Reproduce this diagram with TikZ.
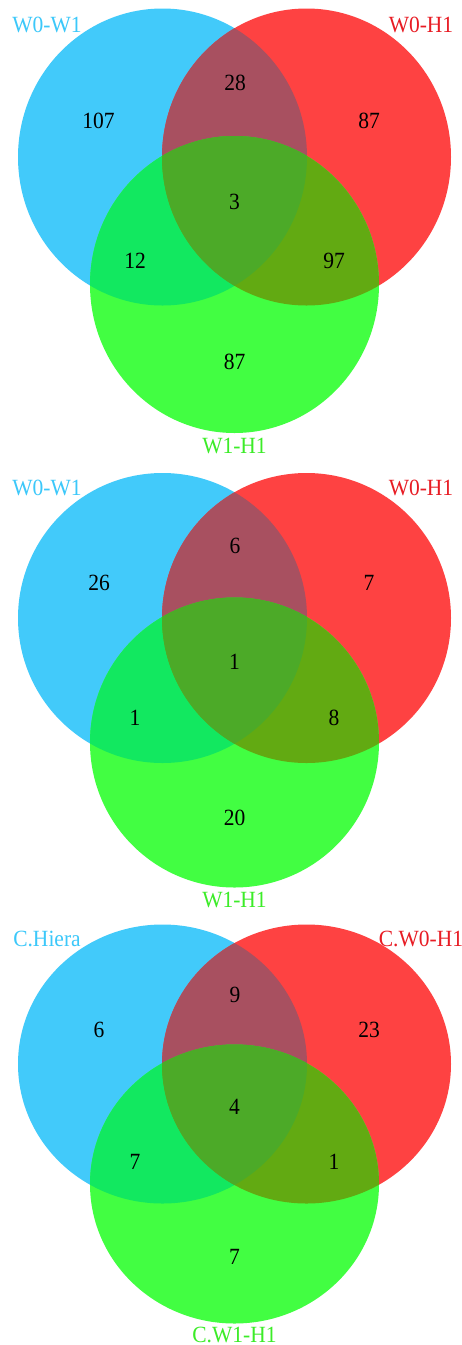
\documentclass[tikz,border=0pt]{standalone}
\usepackage{graphicx}
\usepackage{fontspec}
\setmainfont{Liberation Serif}
\definecolor{cB}{RGB}{66,202,250}
\definecolor{cR}{RGB}{254,66,66}
\definecolor{cG}{RGB}{66,254,66}
\definecolor{cBR}{RGB}{168,80,96}
\definecolor{cBG}{RGB}{18,232,96}
\definecolor{cRG}{RGB}{98,170,18}
\definecolor{cBRG}{RGB}{76,170,40}
\definecolor{tB}{RGB}{60,200,250}
\definecolor{tR}{RGB}{232,28,36}
\definecolor{tG}{RGB}{60,236,40}
\newcommand\stretchtxt[1]{\scalebox{1}[1.08]{#1}}
\tikzset{
  num/.style={inner sep=0pt, font=\fontsize{21.5}{24}\selectfont, text=black},
  setlabel/.style={inner sep=0pt, font=\fontsize{21.5}{24}\selectfont},
}
% #1 blue/red centre y, #2 vertical radius, #3 green centre y
\newcommand\venndraw[3]{%
  \def\pB{(162.5,#1) ellipse [x radius=144.5pt, y radius=#2pt]}%
  \def\pR{(306.5,#1) ellipse [x radius=144.5pt, y radius=#2pt]}%
  \def\pG{(234.5,#3) ellipse [x radius=144.5pt, y radius=#2pt]}%
  \fill[cB] \pB;
  \fill[cR] \pR;
  \fill[cG] \pG;
  \begin{scope}\clip \pB; \fill[cBR] \pR; \fill[cBG] \pG; \end{scope}
  \begin{scope}\clip \pR; \fill[cRG] \pG; \end{scope}
  \begin{scope}\clip \pB; \clip \pR; \fill[cBRG] \pG; \end{scope}
}
\begin{document}
\begin{tikzpicture}[x=1pt,y=-1pt]
\useasboundingbox (0,0) rectangle (461,1345);
\fill[white] (0,0) rectangle (461,1345);
% ---------- diagram 1
\venndraw{157}{148.5}{284.5}
\node[setlabel,text=tB] (a1) at (47,24.5) {\stretchtxt{W0-W1}};
\node[setlabel,text=tR] (a2) at (421,24.5) {\stretchtxt{W0-H1}};
\node[setlabel,text=tG] (a3) at (234.5,446) {\stretchtxt{W1-H1}};
\node[num] (a4) at (98.5,121) {\stretchtxt{107}};
\node[num] (a5) at (235,83) {\stretchtxt{28}};
\node[num] (a6) at (369,121) {\stretchtxt{87}};
\node[num] (a7) at (234.5,202) {\stretchtxt{3}};
\node[num] (a8) at (135,261) {\stretchtxt{12}};
\node[num] (a9) at (334,261) {\stretchtxt{97}};
\node[num] (a10) at (234.5,362) {\stretchtxt{87}};
% ---------- diagram 2
\venndraw{618}{145}{742.5}
\node[setlabel,text=tB] (b1) at (47,488) {\stretchtxt{W0-W1}};
\node[setlabel,text=tR] (b2) at (421,488) {\stretchtxt{W0-H1}};
\node[setlabel,text=tG] (b3) at (234.5,900) {\stretchtxt{W1-H1}};
\node[num] (b4) at (99,583) {\stretchtxt{26}};
\node[num] (b5) at (235,546) {\stretchtxt{6}};
\node[num] (b6) at (369,583) {\stretchtxt{7}};
\node[num] (b7) at (234.5,662) {\stretchtxt{1}};
\node[num] (b8) at (135,718) {\stretchtxt{1}};
\node[num] (b9) at (334,718) {\stretchtxt{8}};
\node[num] (b10) at (234.5,818) {\stretchtxt{20}};
% ---------- diagram 3
\venndraw{1064}{139.5}{1184}
\node[setlabel,text=tB] (c1) at (47,939) {\stretchtxt{C.Hiera}};
\node[setlabel,text=tR] (c2) at (421,939) {\stretchtxt{C.W0-H1}};
\node[setlabel,text=tG] (c3) at (234.5,1335) {\stretchtxt{C.W1-H1}};
\node[num] (c4) at (99,1030) {\stretchtxt{6}};
\node[num] (c5) at (235,995) {\stretchtxt{9}};
\node[num] (c6) at (369,1030) {\stretchtxt{23}};
\node[num] (c7) at (234.5,1107) {\stretchtxt{4}};
\node[num] (c8) at (135,1162) {\stretchtxt{7}};
\node[num] (c9) at (334,1162) {\stretchtxt{1}};
\node[num] (c10) at (234.5,1257) {\stretchtxt{7}};
\end{tikzpicture}
\end{document}
